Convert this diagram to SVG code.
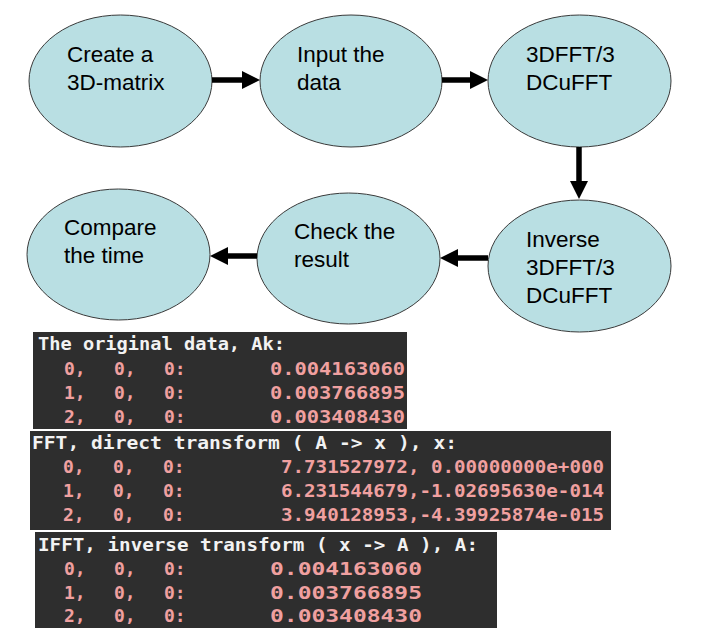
<svg xmlns="http://www.w3.org/2000/svg" width="715" height="639" viewBox="0 0 715 639">
<defs>
<style>
.node ellipse{fill:#b9dfe3;stroke:#3a3a3a;stroke-width:1}
.node text{font-family:"Liberation Sans",Arial,sans-serif;font-size:22.5px;fill:#000}
.conn line{stroke:#000;stroke-width:5.5}
.term{fill:#2e2e2e}
.hd{font-family:"DejaVu Sans Mono","Liberation Mono",monospace;font-weight:bold;font-size:18px;fill:#f2f2f2}
.num{font-family:"DejaVu Sans Mono","Liberation Mono",monospace;font-weight:bold;font-size:18px;fill:#f0a0a0}
</style>
<marker id="ah" markerUnits="userSpaceOnUse" markerWidth="18" markerHeight="18" refX="0" refY="9" orient="auto">
<path d="M0,0 L18,9 L0,18 Z" fill="#000"/>
</marker>
</defs>
<rect width="715" height="639" fill="#fff"/>

<g id="n1" class="node">
<ellipse cx="120.5" cy="81" rx="91.5" ry="66"/>
<text x="67" y="62">Create a</text>
<text x="67" y="90">3D-matrix</text>
</g>
<g id="n2" class="node">
<ellipse cx="351" cy="81" rx="91" ry="66"/>
<text x="297" y="62">Input the</text>
<text x="297" y="90">data</text>
</g>
<g id="n3" class="node">
<ellipse cx="579.5" cy="81" rx="91.5" ry="66"/>
<text x="526" y="62">3DFFT/3</text>
<text x="526" y="90">DCuFFT</text>
</g>
<g id="n6" class="node">
<ellipse cx="579.5" cy="266" rx="91.5" ry="66"/>
<text x="526" y="247">Inverse</text>
<text x="526" y="275">3DFFT/3</text>
<text x="526" y="303">DCuFFT</text>
</g>
<g id="n5" class="node">
<ellipse cx="348.5" cy="258.5" rx="91.5" ry="65.5"/>
<text x="294" y="239">Check the</text>
<text x="294" y="267">result</text>
</g>
<g id="n4" class="node">
<ellipse cx="118.5" cy="254.5" rx="91.5" ry="65.5"/>
<text x="64" y="235">Compare</text>
<text x="64" y="263">the time</text>
</g>

<g id="connectors" class="conn">
<line x1="212" y1="80" x2="242" y2="80" marker-end="url(#ah)"/>
<line x1="442" y1="80" x2="470" y2="80" marker-end="url(#ah)"/>
<line x1="579" y1="147" x2="579" y2="181" marker-end="url(#ah)"/>
<line x1="488" y1="258" x2="458" y2="258" marker-end="url(#ah)"/>
<line x1="257" y1="256" x2="228" y2="256" marker-end="url(#ah)"/>
</g>

<g id="output">
<rect class="term" x="33" y="332" width="374" height="97"/>
<rect class="term" x="30" y="431" width="581" height="99"/>
<rect class="term" x="35" y="532" width="462" height="96"/>

<text class="hd" x="38" y="350" textLength="247" lengthAdjust="spacingAndGlyphs">The original data, Ak:</text>
<text class="num" y="375"><tspan x="64">0,</tspan><tspan x="114">0,</tspan><tspan x="164">0:</tspan></text>
<text class="num" x="270" y="375" textLength="135" lengthAdjust="spacingAndGlyphs">0.004163060</text>
<text class="num" y="399"><tspan x="64">1,</tspan><tspan x="114">0,</tspan><tspan x="164">0:</tspan></text>
<text class="num" x="270" y="399" textLength="135" lengthAdjust="spacingAndGlyphs">0.003766895</text>
<text class="num" y="423"><tspan x="64">2,</tspan><tspan x="114">0,</tspan><tspan x="164">0:</tspan></text>
<text class="num" x="270" y="423" textLength="135" lengthAdjust="spacingAndGlyphs">0.003408430</text>

<text class="hd" x="32" y="449" textLength="425" lengthAdjust="spacingAndGlyphs">FFT, direct transform ( A -&gt; x ), x:</text>
<text class="num" y="473"><tspan x="63">0,</tspan><tspan x="113">0,</tspan><tspan x="163">0:</tspan></text>
<text class="num" x="281" y="473" textLength="323" lengthAdjust="spacingAndGlyphs">7.731527972, 0.00000000e+000</text>
<text class="num" y="497"><tspan x="63">1,</tspan><tspan x="113">0,</tspan><tspan x="163">0:</tspan></text>
<text class="num" x="281" y="497" textLength="323" lengthAdjust="spacingAndGlyphs">6.231544679,-1.02695630e-014</text>
<text class="num" y="521"><tspan x="63">2,</tspan><tspan x="113">0,</tspan><tspan x="163">0:</tspan></text>
<text class="num" x="281" y="521" textLength="323" lengthAdjust="spacingAndGlyphs">3.940128953,-4.39925874e-015</text>

<text class="hd" x="38" y="551" textLength="440" lengthAdjust="spacingAndGlyphs">IFFT, inverse transform ( x -&gt; A ), A:</text>
<text class="num" y="575"><tspan x="64">0,</tspan><tspan x="114">0,</tspan><tspan x="164">0:</tspan></text>
<text class="num" x="270" y="575" textLength="152" lengthAdjust="spacingAndGlyphs">0.004163060</text>
<text class="num" y="599"><tspan x="64">1,</tspan><tspan x="114">0,</tspan><tspan x="164">0:</tspan></text>
<text class="num" x="270" y="599" textLength="152" lengthAdjust="spacingAndGlyphs">0.003766895</text>
<text class="num" y="622"><tspan x="64">2,</tspan><tspan x="114">0,</tspan><tspan x="164">0:</tspan></text>
<text class="num" x="270" y="622" textLength="152" lengthAdjust="spacingAndGlyphs">0.003408430</text>
</g>
</svg>
